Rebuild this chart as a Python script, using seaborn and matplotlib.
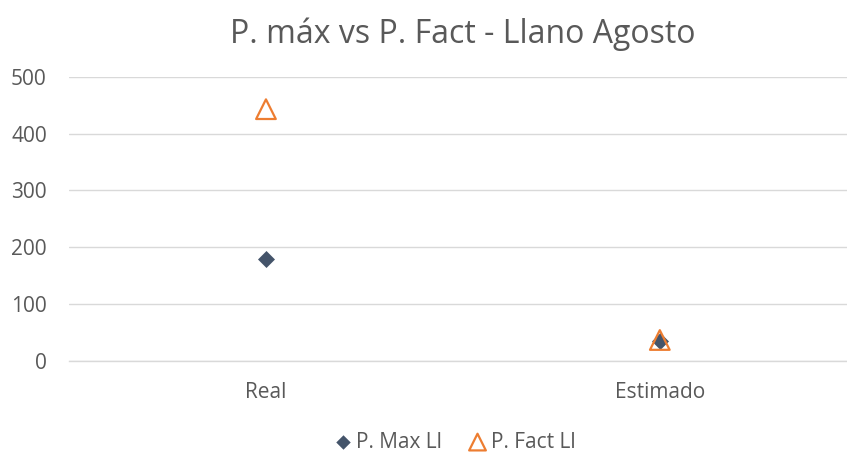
import matplotlib
matplotlib.use("Agg")
import matplotlib.pyplot as plt
import seaborn as sns
import pandas as pd

categories = ["Real", "Estimado"]
p_max_ll = [180, 35]
p_fact_ll = [443, 37]
series_names = ["P. Max Ll", "P. Fact Ll"]
y_ticks = [0, 100, 200, 300, 400, 500]

sns.set_theme(style="white")
plt.rcParams['font.family'] = ['Open Sans', 'DejaVu Sans']

df_max = pd.DataFrame({"cat": categories, "val": p_max_ll})
df_fact = pd.DataFrame({"cat": categories, "val": p_fact_ll})

fig = plt.figure(figsize=(8.47, 4.57), dpi=100)
ax = fig.add_axes([0.0815, 0.21, 0.93, 0.622])

sns.scatterplot(data=df_max, x="cat", y="val", ax=ax, marker="D", s=75,
                color="#44546A", edgecolor="#44546A", linewidth=0, label=series_names[0], zorder=3)
sns.scatterplot(data=df_fact, x="cat", y="val", ax=ax, marker="^", s=200,
                facecolor="none", edgecolor="#ED7D31", linewidth=1.6, label=series_names[1], zorder=4)

ax.set_xlim(-0.5, 1.5)
ax.set_ylim(0, 500)
ax.set_yticks(y_ticks)
ax.yaxis.grid(True, color="#D9D9D9", linewidth=1)
ax.set_axisbelow(True)
for s in ["top", "right", "left"]:
    ax.spines[s].set_visible(False)
ax.spines["bottom"].set_color("#D9D9D9")
ax.spines["bottom"].set_linewidth(1)
ax.tick_params(axis="both", length=0, colors="#595959", labelsize=15)
ax.tick_params(axis="y", pad=16)
ax.tick_params(axis="x", pad=15)
ax.set_xlabel("")
ax.set_ylabel("")
ax.set_title("P. máx vs P. Fact - Llano Agosto", fontsize=23, color="#595959", pad=24)

leg = ax.legend(loc="center", bbox_to_anchor=(0.49, -0.285), ncol=2, frameon=False,
                fontsize=15, handlelength=0.8, handletextpad=0.25, columnspacing=1.3,
                labelcolor="#595959", markerscale=0.85)

fig.savefig("out.png", dpi=100)
